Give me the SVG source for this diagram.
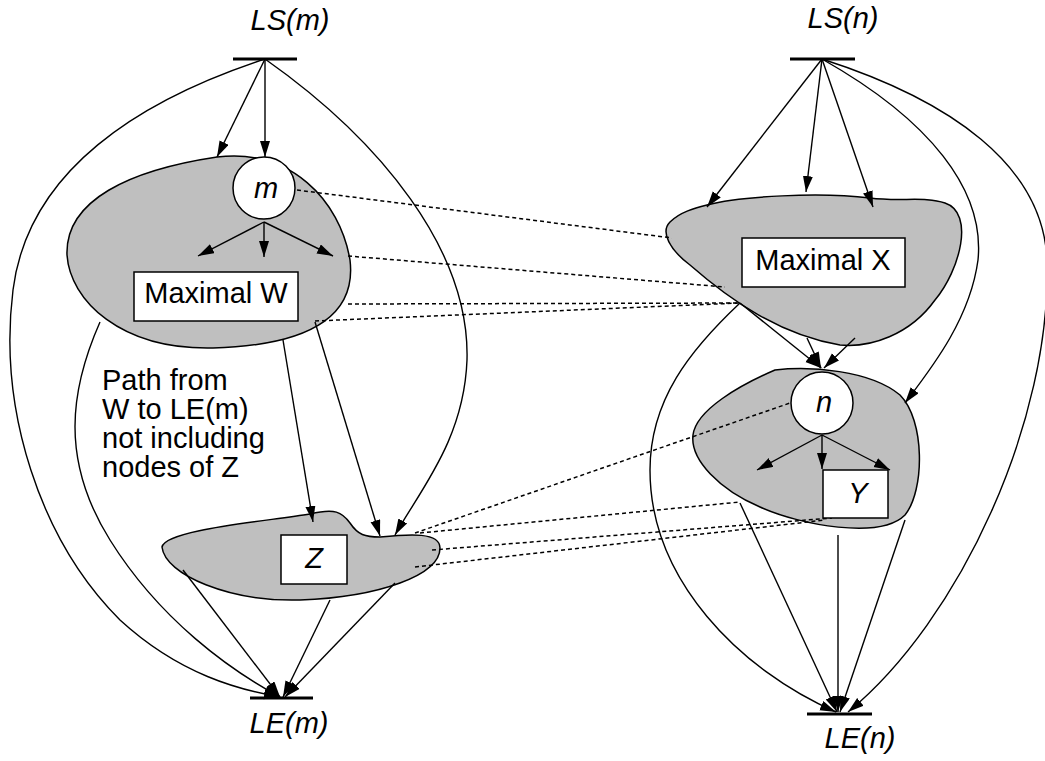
<svg xmlns="http://www.w3.org/2000/svg" width="1045" height="761" viewBox="0 0 1045 761">
  <style>
    .region { fill: #bfbfbf; stroke: #000; stroke-width: 1.5; }
    .box { fill: #fff; stroke: #000; stroke-width: 1.5; }
    .edge { fill: none; stroke: #000; stroke-width: 1.4; }
    .arr { marker-end: url(#head); }
    .link { fill: none; stroke: #000; stroke-width: 1.5; stroke-dasharray: 4 3; }
    .bar { stroke: #000; stroke-width: 3; }
    text { font-family: "Liberation Sans", Arial, sans-serif; font-size: 29px; fill: #000; }
    .it { font-style: italic; }
    .mid { text-anchor: middle; }
  </style>
  <defs>
    <marker id="head" markerUnits="userSpaceOnUse" markerWidth="17" markerHeight="11" refX="16" refY="5" orient="auto">
      <path d="M0,0 L16,5 L0,10 Z" fill="#000"/>
    </marker>
  </defs>
  <rect width="1045" height="761" fill="#fff"/>

  <!-- shaded regions -->
  <g id="regionW">
    <path class="region" d="M217,157 C290,148 340,200 350,260 C356,310 320,345 213,348 C120,350 70,300 67,255 C65,200 130,170 217,157 Z"/>
  </g>
  <g id="regionZ">
    <path class="region" d="M162,547 C165,530 260,522 310,514 C335,508 342,512 350,523 C358,535 365,537 380,537 C410,534 440,532 440,548 C440,575 380,597 300,600 C230,602 165,575 162,547 Z"/>
  </g>
  <g id="regionX">
    <path class="region" d="M707,205 C740,196 820,192 870,198 C900,202 925,196 945,203 C975,213 960,270 935,300 C910,335 870,348 840,345 C780,335 730,300 690,265 C670,250 660,232 670,222 C680,212 695,208 707,205 Z"/>
  </g>
  <g id="regionY">
    <path class="region" d="M775,370 C810,366 870,370 900,395 C925,420 925,490 905,515 C880,540 800,525 760,507 C720,490 690,460 693,435 C696,410 740,385 775,370 Z"/>
  </g>

  <!-- correspondence links -->
  <g id="links">
    <path class="link" d="M297,190 L672,238"/>
    <path class="link" d="M348,256 L725,287"/>
    <path class="link" d="M348,304 L740,303"/>
    <path class="link" d="M315,321 L740,303"/>
    <path class="link" d="M415,533 L790,403"/>
    <path class="link" d="M420,533 L740,502"/>
    <path class="link" d="M432,550 L832,518"/>
    <path class="link" d="M415,567 L825,520"/>
  </g>

  <!-- directed edges -->
  <g id="connectors">
    <path class="edge arr" d="M265,59 L217,157"/>
    <path class="edge arr" d="M265,59 L265,157"/>
    <path class="edge arr" d="M265,59 C140,100 28,170 13,290 C-2,410 40,540 120,620 C180,675 240,690 280,697"/>
    <path class="edge arr" d="M265,59 C380,140 470,250 467,360 C464,440 420,490 395,535"/>
    <path class="edge arr" d="M283,340 L313,522"/>
    <path class="edge arr" d="M315,322 L380,536"/>
    <path class="edge arr" d="M100,322 C70,390 60,460 110,540 C160,620 230,670 280,697"/>
    <path class="edge arr" d="M183,570 L280,697"/>
    <path class="edge arr" d="M330,600 L283,697"/>
    <path class="edge arr" d="M395,583 L285,697"/>
    <path class="edge arr" d="M264,222 L198,256"/>
    <path class="edge arr" d="M264,222 L264,257"/>
    <path class="edge arr" d="M264,222 L333,256"/>

    <path class="edge arr" d="M822,59 L707,207"/>
    <path class="edge arr" d="M822,59 L806,192"/>
    <path class="edge arr" d="M822,59 L873,207"/>
    <path class="edge arr" d="M822,59 C930,120 985,190 978,260 C970,320 930,370 905,403"/>
    <path class="edge arr" d="M822,59 C950,100 1043,165 1047,260 C1052,420 960,620 848,712"/>
    <path class="edge arr" d="M740,303 C690,350 650,400 650,470 C650,580 740,670 836,712"/>
    <path class="edge arr" d="M740,303 L821,368"/>
    <path class="edge arr" d="M807,338 L821,368"/>
    <path class="edge arr" d="M855,338 L824,368"/>
    <path class="edge arr" d="M822,435 L757,470"/>
    <path class="edge arr" d="M822,435 L822,469"/>
    <path class="edge arr" d="M822,435 L890,470"/>
    <path class="edge arr" d="M740,503 L837,712"/>
    <path class="edge arr" d="M838,535 L838,712"/>
    <path class="edge arr" d="M905,520 L840,712"/>
  </g>

  <!-- nodes -->
  <g id="LSm">
    <line class="bar" x1="233" y1="59" x2="297" y2="59"/>
    <text class="it mid" x="290" y="30">LS(m)</text>
  </g>
  <g id="LEm">
    <line class="bar" x1="250" y1="698" x2="313" y2="698"/>
    <text class="it mid" x="289" y="733">LE(m)</text>
  </g>
  <g id="LSn">
    <line class="bar" x1="790" y1="59" x2="855" y2="59"/>
    <text class="it mid" x="843" y="28">LS(n)</text>
  </g>
  <g id="LEn">
    <line class="bar" x1="807" y1="714" x2="872" y2="714"/>
    <text class="it mid" x="860" y="748">LE(n)</text>
  </g>
  <g id="m">
    <circle class="box" cx="264" cy="188" r="31"/>
    <text class="it mid" x="266" y="198">m</text>
  </g>
  <g id="n">
    <circle class="box" cx="822" cy="403" r="31"/>
    <text class="it mid" x="824" y="412">n</text>
  </g>
  <g id="W">
    <rect class="box" x="134" y="272" width="164" height="49"/>
    <text class="mid" x="216" y="303">Maximal W</text>
  </g>
  <g id="X">
    <rect class="box" x="742" y="238" width="163" height="49"/>
    <text class="mid" x="823" y="270">Maximal X</text>
  </g>
  <g id="Z">
    <rect class="box" x="281" y="535" width="66" height="49"/>
    <text class="it mid" x="314" y="568">Z</text>
  </g>
  <g id="Y">
    <rect class="box" x="823" y="470" width="65" height="48"/>
    <text class="it mid" x="858" y="503">Y</text>
  </g>
  <g id="note">
    <text x="102" y="390">Path from</text>
    <text x="102" y="419">W to LE(m)</text>
    <text x="102" y="448">not including</text>
    <text x="102" y="477">nodes of Z</text>
  </g>
</svg>
